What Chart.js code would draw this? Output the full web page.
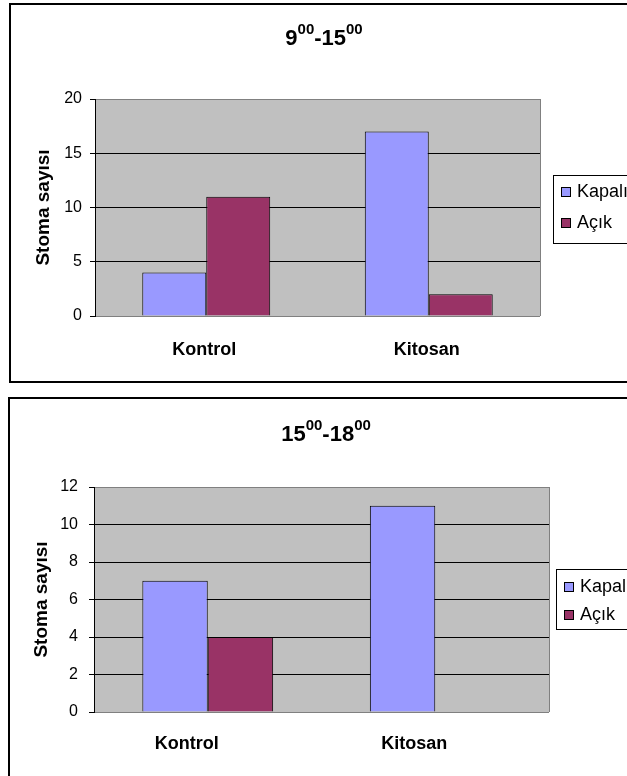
<!DOCTYPE html>
<html>
<head>
<meta charset="utf-8">
<script src="https://cdn.jsdelivr.net/npm/chart.js@4/dist/chart.umd.min.js"></script>
<style>
  html, body { margin: 0; padding: 0; background: #fff; overflow: hidden; width: 627px; height: 776px; }
  canvas { position: absolute; left: 0; }
  #c1 { top: 0; }
  #c2 { top: 390px; }
</style>
</head>
<body>
<canvas id="c1" width="700" height="392"></canvas>
<canvas id="c2" width="700" height="386"></canvas>
<script>
// Stoma counts per treatment, split into closed / open stomata
const categories = ['Kontrol', 'Kitosan'];
const seriesNames = ['Kapalı', 'Açık'];
const kapali9to15 = [4, 17];
const acik9to15 = [11, 2];
const kapali15to18 = [7, 11];
const acik15to18 = [4, 0];
// Titles: [text, isSuperscript]
const title9to15 = [['9', false], ['00', true], ['-15', false], ['00', true]];
const title15to18 = [['15', false], ['00', true], ['-18', false], ['00', true]];
const yTitle = 'Stoma sayısı';
const seriesColors = ['#9999FF', '#993366'];

const FONT = '"Liberation Sans", Arial, Helvetica, sans-serif';

// Plot background, outer frame, superscript title and boxed legend
const excelFrame = {
  id: 'excelFrame',
  beforeDraw(chart) {
    const a = chart.chartArea, ctx = chart.ctx;
    ctx.save();
    ctx.fillStyle = '#C0C0C0';
    ctx.fillRect(a.left, a.top, a.right - a.left, a.bottom - a.top);
    ctx.restore();
  },
  beforeDatasetsDraw(chart) {
    const a = chart.chartArea, ctx = chart.ctx;
    ctx.save();
    ctx.strokeStyle = '#808080';
    ctx.lineWidth = 1;
    const x = Math.round(a.right) + 0.5;
    ctx.beginPath();
    ctx.moveTo(x, a.top);
    ctx.lineTo(x, a.bottom);
    ctx.stroke();
    ctx.restore();
  },
  afterDraw(chart, args, o) {
    const ctx = chart.ctx;
    ctx.save();
    // outer frame
    ctx.strokeStyle = '#000';
    ctx.lineWidth = 2;
    ctx.strokeRect(o.frame.x, o.frame.y, o.frame.w, o.frame.h);

    // title with superscripts
    const big = 'bold 22px ' + FONT, small = 'bold 15px ' + FONT;
    let total = 0;
    const widths = o.title.parts.map(([t, sup]) => {
      ctx.font = sup ? small : big;
      const w = ctx.measureText(t).width;
      total += w;
      return w;
    });
    let x = o.title.cx - total / 2;
    ctx.fillStyle = '#000';
    ctx.textBaseline = 'alphabetic';
    ctx.textAlign = 'left';
    o.title.parts.forEach(([t, sup], i) => {
      ctx.font = sup ? small : big;
      ctx.fillText(t, x, sup ? o.title.baseline - 11.5 : o.title.baseline);
      x += widths[i];
    });

    // legend box
    const L = o.legend;
    ctx.lineWidth = 1;
    ctx.strokeStyle = '#000';
    ctx.fillStyle = '#fff';
    ctx.fillRect(L.x, L.y, L.w, L.h);
    ctx.strokeRect(L.x + 0.5, L.y + 0.5, L.w, L.h);
    ctx.font = '18px ' + FONT;
    ctx.textBaseline = 'middle';
    chart.data.datasets.forEach((ds, i) => {
      const cy = L.rows[i];
      ctx.fillStyle = ds.backgroundColor;
      ctx.fillRect(L.sqX, cy - 5, 10, 10);
      ctx.strokeRect(L.sqX + 0.5, cy - 5 + 0.5, 9, 9);
      ctx.fillStyle = '#000';
      ctx.fillText(ds.label, L.textX, cy);
    });
    ctx.restore();
  }
};

function makeChart(id, kapali, acik, cfg) {
  return new Chart(document.getElementById(id), {
    type: 'bar',
    data: {
      labels: categories,
      datasets: [
        { label: seriesNames[0], data: kapali, backgroundColor: seriesColors[0], borderColor: '#000', borderWidth: 1 },
        { label: seriesNames[1], data: acik, backgroundColor: seriesColors[1], borderColor: '#000', borderWidth: 1 }
      ]
    },
    options: {
      responsive: false,
      animation: false,
      layout: { padding: cfg.padding },
      datasets: { bar: { categoryPercentage: 0.575, barPercentage: 1 } },
      plugins: {
        legend: { display: false },
        title: { display: false },
        tooltip: { enabled: false },
        excelFrame: cfg.deco
      },
      scales: {
        x: {
          grid: { display: false, drawTicks: false },
          border: { display: false },
          ticks: {
            color: '#000',
            font: { family: FONT, size: 18, weight: 'bold' },
            padding: cfg.xPad,
            labelOffset: cfg.labelOffset,
            maxRotation: 0
          },
          afterFit: s => { s.height = cfg.xHeight; }
        },
        y: {
          min: 0,
          max: cfg.yMax,
          ticks: { stepSize: cfg.yStep, color: '#000', font: { family: FONT, size: 16 }, padding: cfg.yPad },
          grid: {
            color: c => (c.tick && (c.tick.value === 0 || c.tick.value === cfg.yMax)) ? '#808080' : '#000',
            tickColor: '#000',
            tickLength: 5,
            lineWidth: 1
          },
          border: { display: true, color: '#000', width: 1 },
          title: {
            display: true,
            text: yTitle,
            color: '#000',
            font: { family: FONT, size: 19, weight: 'bold' },
            padding: { top: cfg.yTitlePad, bottom: 0 }
          },
          afterFit: s => { s.width = cfg.yWidth; }
        }
      }
    },
    plugins: [excelFrame]
  });
}

makeChart('c1', kapali9to15, acik9to15, {
  padding: { left: 20, top: 99, right: 160, bottom: 0 },
  yWidth: 75, xHeight: 76, xPad: 23, yPad: 8, yTitlePad: 12, labelOffset: -2,
  yMax: 20, yStep: 5,
  deco: {
    frame: { x: 10, y: 4, w: 700, h: 378 },
    title: { parts: title9to15, cx: 324, baseline: 45 },
    legend: { x: 553, y: 175, w: 200, h: 68, rows: [192, 223], sqX: 561, textX: 577 }
  }
});

makeChart('c2', kapali15to18, acik15to18, {
  padding: { left: 20, top: 97, right: 151, bottom: 0 },
  yWidth: 74, xHeight: 64, xPad: 21, yPad: 11, yTitlePad: 10, labelOffset: -21,
  yMax: 12, yStep: 2,
  deco: {
    frame: { x: 9, y: 8, w: 700, h: 500 },
    title: { parts: title15to18, cx: 326, baseline: 51 },
    legend: { x: 556, y: 179, w: 200, h: 60, rows: [197, 225], sqX: 564, textX: 580 }
  }
});
</script>
</body>
</html>
